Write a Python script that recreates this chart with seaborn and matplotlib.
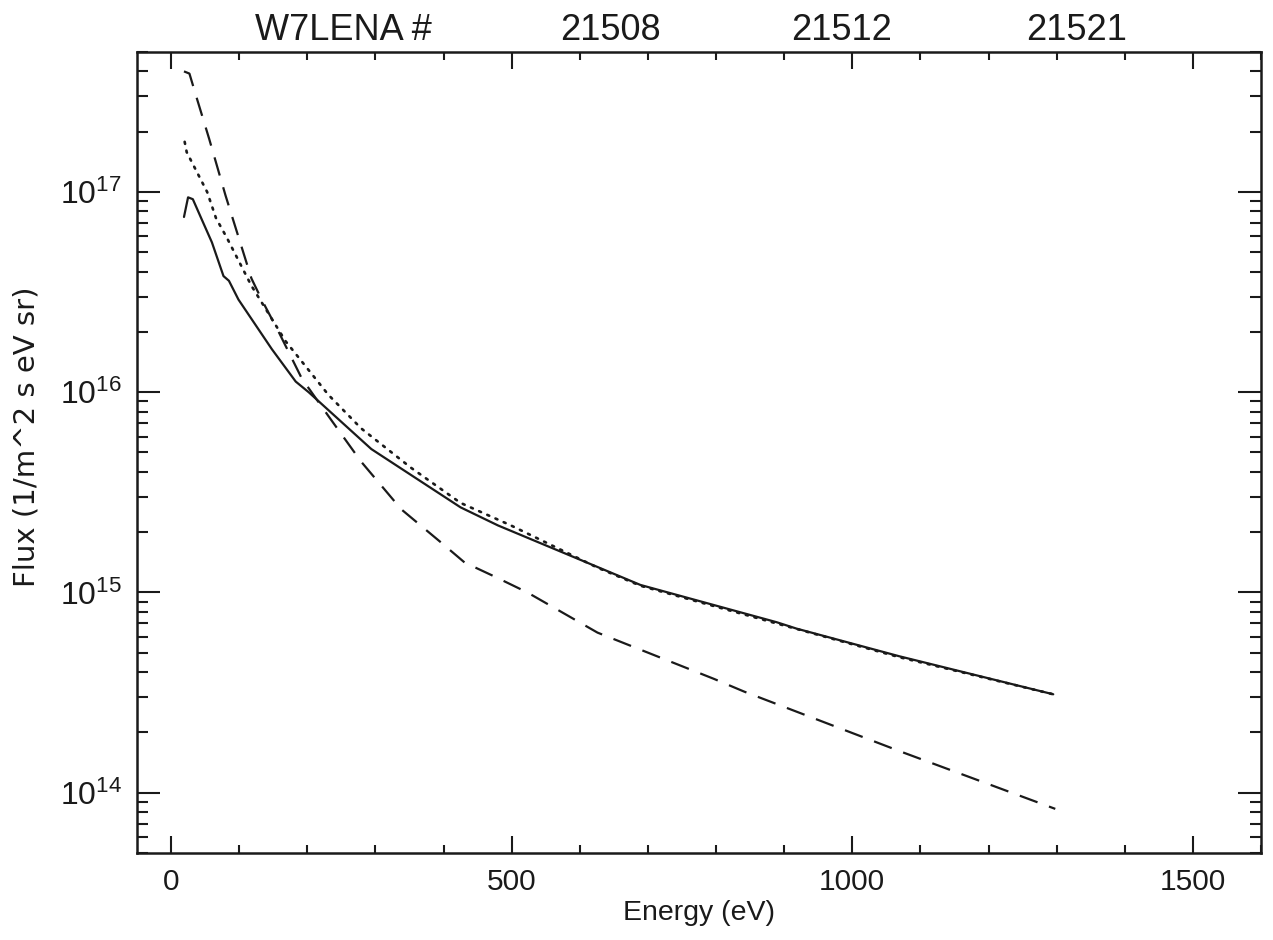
import numpy as np
import pandas as pd
import matplotlib
matplotlib.use("Agg")
import matplotlib.pyplot as plt
import seaborn as sns
from matplotlib.ticker import MultipleLocator, LogLocator, NullFormatter

# Energy grids (eV) and fluxes (1/m^2 s eV sr) for the three spectra
energy_solid = [19, 25, 32, 45, 60, 77, 85, 99, 148, 183, 202, 294, 425, 480,
                626, 689, 889, 918, 1069, 1295]
flux_solid = [7.5e16, 9.4e16, 9.2e16, 7.3e16, 5.6e16, 3.8e16, 3.6e16, 2.9e16,
              1.64e16, 1.13e16, 1.0e16, 5.2e15, 2.66e15, 2.16e15,
              1.34e15, 1.09e15, 7.1e14, 6.6e14, 4.8e14, 3.1e14]

energy_dashed = [19, 27, 37, 56, 80, 118, 133, 158, 192, 231, 279, 338, 396,
                 431, 475, 523, 626, 797, 841, 1072, 1298]
flux_dashed = [4.0e17, 3.9e17, 3.0e17, 1.84e17, 9.6e16, 3.7e16, 2.9e16,
               2.0e16, 1.17e16, 7.6e15, 4.5e15, 2.6e15, 1.78e15, 1.41e15,
               1.2e15, 1.0e15, 6.3e14, 3.7e14, 3.2e14, 1.6e14, 8.3e13]

energy_dotted = [20, 23, 53, 66, 82, 118, 168, 231, 279, 352, 425, 499, 626,
                 689, 889, 1069, 1295]
flux_dotted = [1.78e17, 1.58e17, 1.0e17, 7.4e16, 5.9e16, 3.4e16, 1.8e16,
               9.7e15, 6.6e15, 4.2e15, 2.8e15, 2.16e15, 1.33e15, 1.08e15,
               7.0e14, 4.75e14, 3.1e14]

x_ticks = [0, 500, 1000, 1500]
shot_header = ["W7LENA #", "21508", "21512", "21521"]
x_label = "Energy (eV)"
y_label = "Flux (1/m^2 s eV sr)"

sns.set_theme(style="ticks")
plt.rcParams["font.family"] = ["Liberation Sans", "DejaVu Sans"]
plt.rcParams["mathtext.fontset"] = "custom"
plt.rcParams["mathtext.rm"] = "Liberation Sans"
plt.rcParams["mathtext.it"] = "Liberation Sans"

ink = "#1a1a1a"

fig = plt.figure(figsize=(12.73, 9.40), dpi=100)
fig.patch.set_facecolor("white")
ax = fig.add_axes([0.1076, 0.0926, 0.8830, 0.8521])
ax.set_facecolor("white")

df_solid = pd.DataFrame({"energy": energy_solid, "flux": flux_solid})
df_dashed = pd.DataFrame({"energy": energy_dashed, "flux": flux_dashed})
df_dotted = pd.DataFrame({"energy": energy_dotted, "flux": flux_dotted})

sns.lineplot(data=df_dashed, x="energy", y="flux", ax=ax, color=ink,
             linewidth=1.6, linestyle=(0, (8.5, 5.5)), estimator=None, sort=False)
sns.lineplot(data=df_dotted, x="energy", y="flux", ax=ax, color=ink,
             linewidth=1.9, linestyle=(0, (0.8, 2.6)), estimator=None, sort=False,
             dash_capstyle="round")
sns.lineplot(data=df_solid, x="energy", y="flux", ax=ax, color=ink,
             linewidth=1.6, estimator=None, sort=False)

ax.set_yscale("log")
ax.set_xlim(-50, 1600)
ax.set_ylim(5e13, 5e17)

ax.set_xticks(x_ticks)
ax.xaxis.set_minor_locator(MultipleLocator(100))
ax.yaxis.set_major_locator(LogLocator(base=10, numticks=10))
ax.yaxis.set_minor_locator(LogLocator(base=10, subs=np.arange(2, 10), numticks=20))
ax.yaxis.set_minor_formatter(NullFormatter())

ax.tick_params(axis="both", which="both", direction="in", top=True, right=True,
               color=ink, labelcolor=ink)
ax.tick_params(axis="x", which="major", length=12, width=1.5, labelsize=21.5, pad=11)
ax.tick_params(axis="x", which="minor", length=6, width=1.5)
ax.tick_params(axis="y", which="major", length=16.5, width=1.5, labelsize=23, pad=11)
ax.tick_params(axis="y", which="minor", length=8, width=1.5)

for side in ["left", "right", "top", "bottom"]:
    ax.spines[side].set_visible(True)
    ax.spines[side].set_linewidth(1.8)
    ax.spines[side].set_color(ink)

ax.set_xlabel(x_label, fontsize=20.5, color=ink, labelpad=3)
ax.set_ylabel(y_label, fontsize=21, color=ink, family=["DejaVu Sans"])
ax.yaxis.set_label_coords(-0.086, 0.52)

# Shot number header above the frame
header_x = [343, 610, 842, 1077]
for px, txt in zip(header_x, shot_header):
    fig.text(px / 1273, 1 - 30 / 940, txt, ha="center", va="center",
             fontsize=26, color=ink)

fig.savefig("out.png", dpi=100, facecolor="white")
